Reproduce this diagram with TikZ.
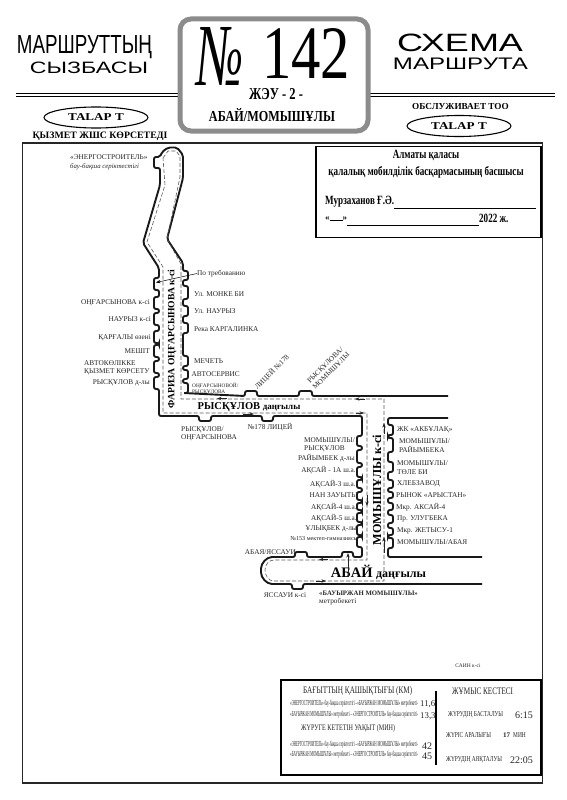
\documentclass[tikz,border=0pt]{standalone}
\usepackage{fontspec}
\setmainfont{Liberation Serif}
\newfontfamily\sansf{Liberation Sans}
\newfontfamily\serifnarrow[FakeStretch=0.72]{Liberation Serif}
\newfontfamily\serifwide[FakeStretch=1.25]{Liberation Serif}
\usetikzlibrary{arrows.meta, positioning, shapes.geometric}
\newcommand{\fs}[1]{\fontsize{#1}{#1}\selectfont}
\newcommand{\vstop}[4]{-- (#1,#2) -- ++(#4,0) |- (#1,#3)}
\newcommand{\hstop}[4]{-- (#2,#1) -- ++(0,#4) -| (#3,#1)}
\newcommand{\fitline}[1]{\resizebox{128pt}{5.5pt}{#1}}
\begin{document}
\begin{tikzpicture}[
      x=1pt, y=-1pt,
      road/.style={line width=1.9pt, rounded corners=2pt, black!90},
      trip/.style={line width=0.6pt, black!65, dash pattern=on 4pt off 2pt},
      flow/.style={line width=0.8pt, black!85},
      logo/.style={draw, ellipse, line width=1.1pt, minimum width=104pt, minimum height=21pt, inner sep=0pt, font=\serifwide\bfseries\fs{10.5}},
      lab/.style={inner sep=0pt, align=left, font=\fs{7.3}, text=black!85},
      labl/.style={lab, anchor=west},
      labr/.style={lab, anchor=east},
      apprtext/.style={inner sep=0pt, font=\serifnarrow\bfseries\fs{12.6}},
      cell/.style={inner sep=0pt, anchor=west, font=\serifnarrow\fs{8.5}, text=black!85},
      small/.style={cell, font=\serifnarrow\fs{7.5}},
      num/.style={inner sep=0pt, anchor=west, font=\fs{10}, text=black!85},
      >={Stealth[length=1.6mm]}
    ]
    \useasboundingbox (0,0) rectangle (566,800);

    % header
    \draw[line width=1.5pt] (16,93.4) -- (555,93.4);
    \draw[line width=0.7pt] (16,96.8) -- (555,96.8);
    \node[inner sep=0pt] (titleleft) at (84.5,47.5) {\resizebox{135pt}{18pt}{\sansf МАРШРУТТЫҢ}};
    \node[inner sep=0pt] (subleft) at (89,67.5) {\resizebox{118pt}{11.5pt}{\sansf СЫЗБАСЫ}};
    \node[inner sep=0pt] (titleright) at (460,43) {\resizebox{126pt}{17.5pt}{\sansf СХЕМА}};
    \node[inner sep=0pt] (subright) at (460.5,64) {\resizebox{135pt}{11.5pt}{\sansf МАРШРУТА}};
    \node[draw=black!45, fill=white, line width=5pt, rounded corners=11pt, minimum width=188pt, minimum height=112pt] (titlebox) at (274,75) {};
    \node[inner sep=0pt] (numsign) at (220.5,56) {\resizebox{47pt}{58pt}{\itshape №}};
    \node[inner sep=0pt] (routeno) at (306,53) {\resizebox{88pt}{50pt}{142}};
    \node[inner sep=0pt] (depot) at (276,94) {\resizebox{54pt}{11pt}{\bfseries ЖЭУ - 2 -}};
    \node[inner sep=0pt] (routename) at (272,115) {\resizebox{126pt}{13pt}{\bfseries АБАЙ/МОМЫШҰЛЫ}};
    \node[logo] (logoleft) at (96,117.5) {TALAP T};
    \node[logo] (logoright) at (459,126) {TALAP T};
    \node[inner sep=0pt, font=\bfseries\fs{9.8}] (service) at (100,136) {ҚЫЗМЕТ ЖШС КӨРСЕТЕДІ};
    \node[inner sep=0pt, font=\bfseries\fs{9.2}] (serves) at (460.5,106) {ОБСЛУЖИВАЕТ ТОО};

    % frame
    \draw[line width=1.5pt, black!85] (22.5,143) rectangle (542.5,783);
    \node[draw, line width=1.3pt, fill=white, minimum width=225pt, minimum height=91pt] (approval) at (428.5,192) {};
    \node[apprtext] (appr1) at (426,155) {Алматы қаласы};
    \node[apprtext] (appr2) at (426,172) {қалалық мобилділік басқармасының басшысы};
    \node[apprtext, anchor=west] (head) at (325,202) {Мурзаханов Ғ.Ә.};
    \coordinate (signend) at (536,208.5);
    \draw[line width=0.8pt] (head.south east |- signend) -- (signend);
    \node[apprtext, anchor=west, font=\bfseries\fs{9}] (dateq) at (325,219) {«\rule{13pt}{0.5pt}»};
    \node[apprtext, anchor=west] (year) at (479,218) {2022 ж.};
    \draw[line width=0.8pt] (dateq.east |- 0,225) -- (year.west |- 0,225);

    % road
    \draw[road] (448,396) \hstop{396}{312}{299}{-5} \hstop{396}{257}{245}{-5}
      \vstop{183}{393}{383}{5} \vstop{183}{379}{370}{5} \vstop{183}{366}{356}{5}
      \vstop{183}{333}{323}{5} \vstop{183}{316}{306}{5} \vstop{183}{299}{286}{5} \vstop{183}{280}{271}{5}
      -- (183,263) -- (167,239) -- (183,178) -- (183,155) -- (177,147.5) -- (168,147.5) -- (162,152)
      \vstop{160}{157}{168}{-6} -- (160,185) -- (143,243) -- (159,268)
      \vstop{159}{278}{290}{-5} \vstop{159}{297}{309}{-5} \vstop{159}{313}{325}{-5} \vstop{159}{331}{343}{-5}
      \vstop{159}{345}{357}{-5} \vstop{159}{361}{373}{-5} \vstop{159}{377}{389}{-5}
      -- (159,416) \hstop{416}{199}{211}{5} \hstop{416}{262}{273}{5}
      -- (362,416) \vstop{362}{436}{446}{-5} \vstop{362}{450}{463}{-5} \vstop{362}{467}{477}{-5}
      \vstop{362}{480}{488}{-5} \vstop{362}{492}{500}{-5} \vstop{362}{503}{510}{-5}
      \vstop{362}{513}{522}{-5} \vstop{362}{525}{535}{-5} \vstop{362}{537}{547}{-5}
      -- (362,557) \hstop{557}{353}{342}{-5} \hstop{557}{307}{295}{-5}
      -- (274,557) to[out=180, in=90] (261,570.5) to[out=-90, in=180] (274,584)
      \hstop{584}{292}{303}{5} -- (482,584);
    \draw[road] (448,418) -- (388,418) \vstop{388}{425}{435}{5} \vstop{388}{438}{452}{5} \vstop{388}{462}{472}{5}
      \vstop{388}{480}{488}{5} \vstop{388}{492}{498}{5} \vstop{388}{503}{510}{5}
      \vstop{388}{515}{523}{5} \vstop{388}{528}{535}{5} \vstop{388}{538}{548}{5}
      -- (388,557) -- (482,557);
    \draw[trip] (163,158) -- (168,151) -- (176,151) -- (180,156) -- (180,177) -- (167,239) -- (181,264)
      -- (181,399) -- (384,399) -- (384,581) -- (274,581) to[out=180, in=-90] (265,570)
      to[out=90, in=180] (274,560) -- (367,560) -- (367,413) -- (163,413) -- (163,267) -- (147,242) -- (165,185) -- cycle;

    % direction marks
    \draw[->, flow] (227,398.5) -- (217,398.5);
    \draw[->, flow] (243,414) -- (254,414);
    \draw[->, flow] (365,399) -- (355,399);
    \draw[->, flow] (356,413) -- (364,413);
    \draw[->, flow] (384,434) -- (384,423);
    \draw[->, flow] (384,553) -- (384,537);
    \draw[->, flow] (367,495) -- (367,506);
    \draw[->, flow] (328,559.5) -- (319,559.5);
    \draw[->, flow] (316,581) -- (326,581);

    % stops north part
    \node[labl] (enstroy) at (70,157.5) {«ЭНЕРГОСТРОИТЕЛЬ»};
    \node[labl, font=\itshape\fs{6.8}] (enstroy2) at (70,167) {бау-бақша серіктестігі};
    \node[labl] (request) at (197,273.5) {По требованию};
    \coordinate (requeststop) at (156,282.5);
    \draw[->, line width=0.5pt] (request.west) -- (requeststop);
    \node[labl] (monke) at (194,294.5) {Ул. МОНКЕ БИ};
    \node[labl] (nauryzr) at (194,311) {Ул. НАУРЫЗ};
    \node[labl] (river) at (194,329) {Река КАРГАЛИНКА};
    \node[labl] (mosque) at (194,361.5) {МЕЧЕТЬ};
    \node[labl] (service2) at (191.5,374.5) {АВТОСЕРВИС};
    \node[labl, font=\fs{5.3}, align=left] (ongryskr) at (192,389) {ОҢҒАРСЫНОВОЙ/\\[1pt]РЫСҚҰЛОВА};
    \node[labr] (ongl) at (150,303) {ОҢҒАРСЫНОВА к-сі};
    \node[labr] (nauryzl) at (151,319.5) {НАУРЫЗ к-сі};
    \node[labr] (qargaly) at (151,338) {ҚАРҒАЛЫ өзені};
    \node[labr] (meshit) at (150,351) {МЕШІТ};
    \node[labl, align=left] (autoserv) at (84,368) {АВТОКӨЛІККЕ\\[1pt]ҚЫЗМЕТ КӨРСЕТУ};
    \node[labr] (ryskl) at (150,383) {РЫСҚҰЛОВ д-лы};
    \node[inner sep=0pt, rotate=90, font=\bfseries\fs{9.6}] (fariza) at (172,339) {ФАРИЗА ОҢҒАРСЫНОВА к-сі};

    % stops Ryskulov
    \node[inner sep=0pt, font=\bfseries\fs{10.5}] (ryskavenue) at (249,407) {РЫСҚҰЛОВ {\fs{9}даңғылы}};
    \node[labl] (ryskong) at (181,433.5) {РЫСҚҰЛОВ/\\[1pt]ОҢҒАРСЫНОВА};
    \node[lab] (lyceum) at (270,427.5) {№178 ЛИЦЕЙ};
    \node[lab, rotate=45] (lyceumup) at (272,372) {ЛИЦЕЙ №178};
    \node[lab, rotate=45, align=center] (ryskmom) at (328,368) {РЫСҚҰЛОВА/\\[1pt]МОМЫШҰЛЫ};

    % stops Momyshuly
    \node[inner sep=0pt, rotate=90, font=\bfseries\fs{12.2}] (momstreet) at (377,490) {МОМЫШҰЛЫ к-сі};
    \node[labl] (akbulak) at (397,430) {ЖК «АКБҰЛАҚ»};
    \node[labl] (momrai) at (399,445.5) {МОМЫШҰЛЫ/\\[1pt]РАЙЫМБЕКА};
    \node[labl] (momtole) at (397,467.5) {МОМЫШҰЛЫ/\\[1pt]ТӨЛЕ БИ};
    \node[labl] (bakery) at (397,484) {ХЛЕБЗАВОД};
    \node[labl] (market) at (396,495) {РЫНОК «АРЫСТАН»};
    \node[labl] (aksayfourr) at (396,507) {Мкр. АКСАЙ-4};
    \node[labl] (ulugbek) at (397,519) {Пр. УЛУГБЕКА};
    \node[labl] (zhetysu) at (397,531) {Мкр. ЖЕТЫСУ-1};
    \node[labl] (momabay) at (397,542) {МОМЫШҰЛЫ/АБАЯ};
    \node[labr, align=left] (momrysk) at (355,449.5) {\hspace*{6pt}МОМЫШҰЛЫ/\\[1pt]\hspace*{6pt}РЫСҚҰЛОВ\\[1pt]РАЙЫМБЕК д-лы};
    \node[labr] (aksayone) at (356,470) {АҚСАЙ - 1А ш.а.};
    \node[labr] (aksaythree) at (356,484) {АҚСАЙ-3 ш.а.};
    \node[labr] (nan) at (358,495) {НАН ЗАУЫТЫ};
    \node[labr] (aksayfourl) at (357,507) {АҚСАЙ-4 ш.а.};
    \node[labr] (aksayfive) at (357,518) {АҚСАЙ-5 ш.а.};
    \node[labr] (ulyqbek) at (357,529) {ҰЛЫҚБЕК д-лы};
    \node[labr, font=\fs{6.1}] (school) at (358,538.5) {№153 мектеп-гимназиясы};

    % stops Abai
    \node[labr] (abayyass) at (296,552) {АБАЯ/ЯССАУИ};
    \node[lab] (yassaui) at (285,595) {ЯССАУИ к-сі};
    \node[inner sep=0pt, font=\bfseries\fs{14.5}] (abayavenue) at (378.5,572) {АБАЙ {\fs{12}даңғылы}};
    \node[labl, font=\bfseries\fs{6.8}] (metro) at (319,593) {«БАУЫРЖАН МОМЫШҰЛЫ»};
    \node[labl] (metro2) at (319,601.5) {метробекеті};
    \coordinate (metrostop) at (348,553);
    \coordinate (metrofoot) at (348,577);
    \draw[->, flow] (metrofoot) -- (metrostop);
    \node[lab, font=\fs{5.5}] (sain) at (468,666) {САИН к-сі};

    % table
    \node[draw, line width=1.8pt, fill=white, minimum width=260pt, minimum height=95pt] (tablebox) at (411,727.5) {};
    \draw[line width=1.5pt] (436,691) -- (436,765);
    \node[cell, font=\serifnarrow\fs{10}] (disthead) at (303,691) {БАҒЫТТЫҢ ҚАШЫҚТЫҒЫ (КМ)};
    \node[cell] (dist1) at (290,704) {\fitline{«ЭНЕРГОСТРОИТЕЛЬ» бау-бақша серіктестігі –«БАУЫРЖАН МОМЫШҰЛЫ» метробекеті-}};
    \node[num, font=\fs{8.8}] (km1) at (420,704) {11,6};
    \node[cell] (dist2) at (290,715) {\fitline{«БАУЫРЖАН МОМЫШҰЛЫ» метробекеті – «ЭНЕРГОСТРОИТЕЛЬ» бау-бақша серіктестігі-}};
    \node[num, font=\fs{8.8}] (km2) at (420,716) {13,3};
    \node[cell] (timehead) at (301,728) {ЖҮРУГЕ КЕТЕТІН УАҚЫТ (МИН)};
    \node[cell] (time1) at (290,745) {\fitline{«ЭНЕРГОСТРОИТЕЛЬ» бау-бақша серіктестігі –«БАУЫРЖАН МОМЫШҰЛЫ» метробекеті-}};
    \node[num] (min1) at (422,746) {42};
    \node[cell] (time2) at (290,755) {\fitline{«БАУЫРЖАН МОМЫШҰЛЫ» метробекеті – «ЭНЕРГОСТРОИТЕЛЬ» бау-бақша серіктестігі-}};
    \node[num] (min2) at (422,756) {45};
    \node[cell, font=\serifnarrow\fs{10}] (schedhead) at (452,691) {ЖҰМЫС КЕСТЕСІ};
    \node[small] (start) at (448,715) {ЖҮРУДІҢ БАСТАЛУЫ};
    \node[num] (starttime) at (515,715) {6:15};
    \node[small] (gap) at (446,735) {ЖҮРІС АРАЛЫҒЫ};
    \node[cell, font=\bfseries\fs{7}] (gapnum) at (503,735) {17};
    \node[small] (gapunit) at (513,735) {МИН};
    \node[small] (stop) at (446,760) {ЖҮРУДІҢ АЯҚТАЛУЫ};
    \node[num] (stoptime) at (510,760) {22:05};
\end{tikzpicture}
\end{document}
